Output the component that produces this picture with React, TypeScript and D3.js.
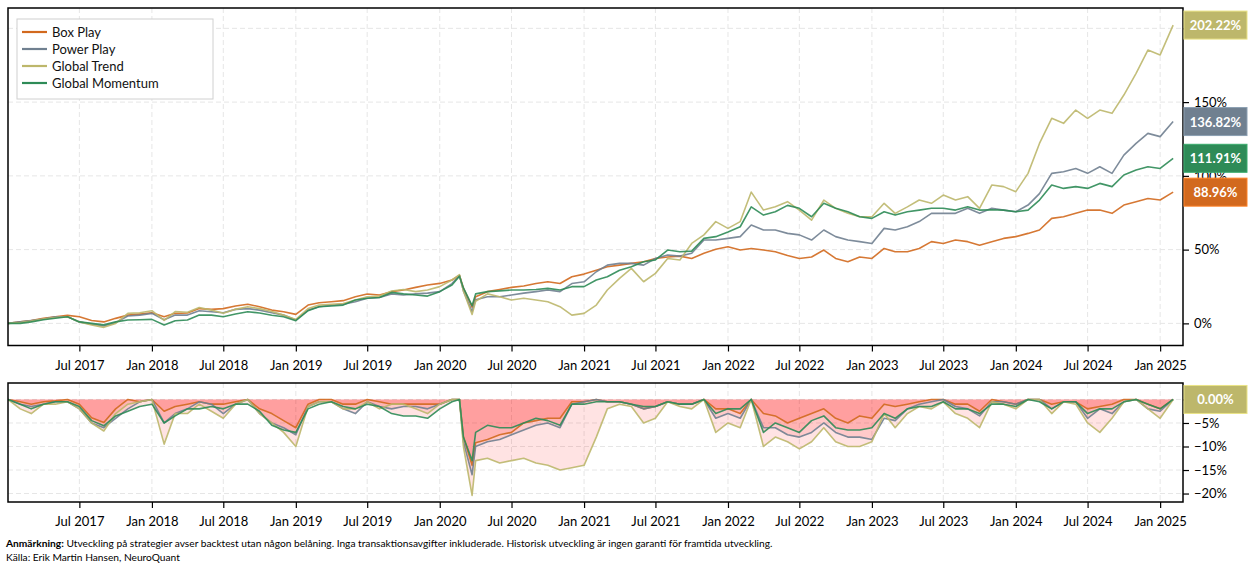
import { useEffect, useRef } from "react";
import * as d3 from "d3";

// monthly observations, plus the Feb/Mar 2020 peak and trough
const dates = [
  "2017-01-01", "2017-02-01", "2017-03-01", "2017-04-01", "2017-05-01", "2017-06-01", "2017-07-01", "2017-08-01", "2017-09-01", "2017-10-01", "2017-11-01", "2017-12-01",
  "2018-01-01", "2018-02-01", "2018-03-01", "2018-04-01", "2018-05-01", "2018-06-01", "2018-07-01", "2018-08-01", "2018-09-01", "2018-10-01", "2018-11-01", "2018-12-01",
  "2019-01-01", "2019-02-01", "2019-03-01", "2019-04-01", "2019-05-01", "2019-06-01", "2019-07-01", "2019-08-01", "2019-09-01", "2019-10-01", "2019-11-01", "2019-12-01",
  "2020-01-01", "2020-02-01", "2020-02-20", "2020-03-01", "2020-03-23", "2020-04-01", "2020-05-01", "2020-06-01", "2020-07-01", "2020-08-01", "2020-09-01", "2020-10-01", "2020-11-01", "2020-12-01",
  "2021-01-01", "2021-02-01", "2021-03-01", "2021-04-01", "2021-05-01", "2021-06-01", "2021-07-01", "2021-08-01", "2021-09-01", "2021-10-01", "2021-11-01", "2021-12-01",
  "2022-01-01", "2022-02-01", "2022-03-01", "2022-04-01", "2022-05-01", "2022-06-01", "2022-07-01", "2022-08-01", "2022-09-01", "2022-10-01", "2022-11-01", "2022-12-01",
  "2023-01-01", "2023-02-01", "2023-03-01", "2023-04-01", "2023-05-01", "2023-06-01", "2023-07-01", "2023-08-01", "2023-09-01", "2023-10-01", "2023-11-01", "2023-12-01",
  "2024-01-01", "2024-02-01", "2024-03-01", "2024-04-01", "2024-05-01", "2024-06-01", "2024-07-01", "2024-08-01", "2024-09-01", "2024-10-01", "2024-11-01", "2024-12-01",
  "2025-01-01", "2025-02-03",
];

// cumulative return, %
const boxPlay = [
  0, 1, 2, 3.5, 4.5, 5.4, 4.5, 2, 1, 3.4, 5.6, 6.3,
  7.2, 4.5, 6.8, 7, 10, 9.5, 10, 11.8, 13, 11.3, 9, 7.9,
  6.1, 12.4, 14, 14.7, 15.4, 18, 19.9, 19.2, 21.5, 22.6, 24.4, 26,
  27.1, 29.4, 32.5, 24, 11, 18, 21.5, 23, 24.4, 25.3, 27, 28.2, 27, 31.6,
  33.4, 36, 38.4, 39.5, 40.7, 41.8, 44, 45, 45.6, 44, 47.5, 50.2,
  52, 49.7, 50.8, 49.7, 48.6, 46, 44, 45, 49.7, 44, 41.8, 45,
  44, 50.8, 48.6, 48.6, 50.8, 55.4, 54.2, 56.5, 55.4, 53, 55.4, 57.6,
  58.8, 61, 63.3, 71.2, 72.3, 74.6, 76.8, 76.8, 74.6, 80.2, 82.5, 84.7,
  83.6, 88.96,
];
const powerPlay = [
  0, 1, 2, 3, 4.5, 4.5, 1, -0.5, -1.8, 0.5, 5, 5.6,
  6.8, 2.5, 5.6, 5.6, 8.6, 7.9, 7.2, 9.5, 10, 9, 7.2, 5.6,
  2.3, 9, 11.3, 12.4, 13, 14.7, 17, 17.5, 20, 19.2, 20, 20.5,
  21.5, 27, 32.5, 22, 8, 16, 18, 18, 19.2, 20.5, 21.5, 22.6, 21.5, 27,
  28.2, 35, 39.5, 40.7, 40.7, 39.5, 44, 46.3, 45.6, 47.5, 56.5, 56.5,
  57.6, 58.8, 66.7, 63.3, 63.3, 61, 60, 56.5, 63.3, 58.8, 56.5, 55.4,
  54.2, 64.4, 63.3, 65.5, 69, 74.6, 74.6, 74.6, 78, 74.6, 78, 76.8,
  75.7, 80.2, 88, 101.7, 102.8, 105, 101.7, 106.2, 101.7, 114.1, 122, 128.8,
  126.6, 136.82,
];
const globalTrend = [
  0, 0.5, 1.5, 3, 4, 4.5, 1, -1, -2.7, 0, 6.8, 7.2,
  8.6, 2, 8, 7.5, 10.8, 9, 6.8, 9.5, 11.3, 10, 8, 5.6,
  2.7, 10, 12.4, 13, 13.5, 15.8, 18, 18.5, 22, 23, 21.5, 22.6,
  24.9, 29.4, 33, 22, 6, 15, 20, 18, 15.8, 17, 15.8, 14.7, 11.3, 5.6,
  6.8, 12.4, 22.6, 30.5, 37.3, 28.2, 33.9, 44, 43, 54.2, 60, 69,
  64.4, 69, 89, 76.8, 79, 82.5, 76.8, 70, 83.6, 78, 74.6, 72.3,
  72.3, 81.4, 74.6, 79, 83.6, 81.4, 87, 83.6, 85.9, 78, 93.8, 92.7,
  89.3, 101.7, 122, 139, 135.6, 144.6, 139, 144.6, 142.4, 154.8, 169.5, 185.3,
  182, 202.22,
];
const globalMomentum = [
  0, 0, 1, 2.5, 3.5, 4.5, 1, 0, -1, 1, 2.3, 2.5,
  2.7, -1.1, 1.8, 2.3, 5.6, 5.6, 4.5, 6.3, 7.9, 7, 5.5, 4.5,
  1.8, 8.6, 11.3, 11.8, 12.4, 15.8, 17, 17.5, 21, 20, 19.2, 18.5,
  21.5, 26, 32, 24, 12, 20, 21.5, 22, 22.6, 22.6, 23, 23.7, 22.6, 24.9,
  24.9, 29.4, 31.6, 36, 38.4, 41.8, 43, 49.7, 48.6, 49, 57.6, 58.8,
  62, 65.5, 79, 73.4, 75.7, 80, 78, 72.3, 81.4, 78, 75.7, 72.3,
  71.2, 75.7, 73.4, 75.7, 76.8, 78, 78, 76.8, 79, 76.8, 77, 76.8,
  75.7, 76.8, 83.6, 93.8, 91.5, 92.7, 91.5, 94.9, 92.7, 100.6, 104, 106.2,
  105, 111.91,
];

// drawdown from running peak, %
const ddBoxPlay = [
  0, -0.5, -1, -0.5, -0.3, 0, -1, -3.9, -4.9, -2, 0, -0.5,
  0, -2.5, -1.5, -1, -0.5, -1, -1, -0.5, 0, -2, -3, -4.5,
  -6, -1, 0, 0, -1, -1, 0, -0.5, -1, -1, -1, -1,
  -1, 0, 0, -8, -14, -9.2, -8.5, -7.5, -7, -5, -4.5, -4, -4, -0.5,
  -0.5, 0, -0.5, -0.5, -1, -2, -1.5, -0.5, -1, -1, 0, -2,
  -2, -3, 0, -3, -3.5, -5, -4, -3, -2, -4, -5, -3.5,
  -4, -1, -1.5, -1, -0.5, 0, 0, -1, -1, -2.5, 0, -0.5,
  -1, 0, 0, -1, -0.5, -0.5, -2, -1.5, -1, 0, 0, -1,
  -2, 0,
];
const ddPowerPlay = [
  0, -1, -1.5, -1, -0.5, -0.5, -2, -5, -6, -4, -2, -0.5,
  0, -5, -3, -2, -0.5, -1, -3, -1, 0, -3, -5, -6,
  -7.5, -1.5, -0.5, -0.5, -2, -3, -0.5, -1.5, -2, -1.5, -1.5, -2,
  -1, 0, 0, -9, -16, -10, -9, -8.5, -7.5, -6.5, -5.5, -5, -6, -1,
  -0.5, 0, -0.5, -0.5, -1, -2, -1.5, -0.5, -1, -1, 0, -4,
  -3, -4, 0, -6, -6, -7.5, -8, -7, -5, -7, -8, -8,
  -8.5, -4, -4.5, -2, -1, -0.5, 0, -1.5, -2, -3.5, -0.5, -0.5,
  -1, 0, 0, -2, -0.5, -0.5, -4, -2, -3, -0.5, 0, -2,
  -2.5, 0,
];
const ddGlobalTrend = [
  0, -2, -3, -1, -1, -0.5, -2, -5, -6.7, -3, -1, -0.5,
  0, -9.5, -3, -3, -1, -2.5, -4, -1, 0, -3, -5, -7,
  -10, -1.5, -0.5, -0.5, -2, -2, -0.5, -2, -1, -1, -2, -3,
  -1, 0, 0, -10, -20.4, -13, -12.5, -13.5, -13, -12.5, -13.5, -14, -15, -14.5,
  -14, -8, -2, -1, -1.5, -5, -4, -0.5, -1.5, -2, 0, -7,
  -5, -6, 0, -10, -8, -9, -10.5, -9, -6, -9, -10, -10,
  -9, -3, -6, -3, -1.5, -2, -0.5, -3, -4, -6, -0.5, -1,
  -2, 0, 0, -3, -0.5, -1, -5, -7, -4, -0.5, 0, -2,
  -4, 0,
];
const ddGlobalMomentum = [
  0, -1, -2, -1, -0.5, -0.5, -1.5, -4.5, -5.6, -3.5, -2.5, -1.5,
  -1, -5, -3.5, -2, -2, -1.5, -2, -1, -1, -2.5, -5.5, -6.5,
  -7, -2, -1, -0.5, -1.5, -2, -1, -1.5, -3, -3.5, -3.5, -4,
  -2, -0.5, 0, -8, -13, -7, -5.5, -6, -6, -5, -4, -4.5, -5.5, -1,
  -1, -0.5, -0.5, -0.5, -1, -1.5, -1.5, -0.5, -1, -1, 0, -3,
  -2, -2, 0, -7, -5, -6, -7, -4.5, -3.5, -6, -6.5, -6.5,
  -6, -3, -4, -2, -1.5, -1.5, -0.5, -2, -2, -3, -1, -1,
  -1.5, 0, -0.5, -2, -0.5, -0.5, -3, -2, -2, -0.5, 0, -1,
  -2, 0,
];

const seriesNames = ["Box Play", "Power Play", "Global Trend", "Global Momentum"];
const seriesColors = ["#d2691e", "#708090", "#bdb76b", "#2e8b57"];
const mainValues = [boxPlay, powerPlay, globalTrend, globalMomentum];
const ddValues = [ddBoxPlay, ddPowerPlay, ddGlobalTrend, ddGlobalMomentum];

const mainTicks = [0, 50, 100, 150, 200];
const ddTicks = [0, -5, -10, -15, -20];

const noteBold = "Anmärkning:";
const noteText = " Utveckling på strategier avser backtest utan någon belåning. Inga transaktionsavgifter inkluderade. Historisk utveckling är ingen garanti för framtida utveckling.";
const sourceText = "Källa: Erik Martin Hansen, NeuroQuant";

const FONT = "Lato, 'Noto Sans', sans-serif";

const App = () => {
  const svgRef = useRef<SVGSVGElement>(null);

  useEffect(() => {
    if (!svgRef.current) return;
    const svg = d3.select(svgRef.current);
    svg.selectAll("*").remove();

    const width = 1254;
    const height = 574;
    const left = 8;
    const right = 1183;
    const main = { top: 8, bottom: 345.5 };
    const dd = { top: 383, bottom: 502 };
    const labelH = 28;

    svg.attr("width", width).attr("height", height).style("font-family", FONT);

    const parsed = dates.map(d => new Date(d + "T00:00:00Z"));

    const x = d3.scaleUtc()
      .domain([new Date("2017-01-01T00:00:00Z"), new Date("2025-02-28T00:00:00Z")])
      .range([left, right]);
    const yMain = d3.scaleLinear().domain([-15, 213.8]).range([main.bottom, main.top]);
    const yDd = d3.scaleLinear().domain([-21.8, 3.5]).range([dd.bottom, dd.top]);

    const xTicks = d3.utcMonth.every(6)!.range(new Date("2017-06-01T00:00:00Z"), new Date("2025-02-01T00:00:00Z"));

    const defs = svg.append("defs");
    defs.append("clipPath").attr("id", "clip-main").append("rect")
      .attr("x", left).attr("y", main.top).attr("width", right - left).attr("height", main.bottom - main.top);
    defs.append("clipPath").attr("id", "clip-dd").append("rect")
      .attr("x", left).attr("y", dd.top).attr("width", right - left).attr("height", dd.bottom - dd.top);

    const gridColor = "#e6e6e6";

    // end-value labels sit over the right axis; tick texts under them are hidden
    const mainLabelYs = mainValues.map(v => yMain(v[v.length - 1]));
    const ddLast = ddGlobalTrend[ddGlobalTrend.length - 1];
    const ddLabelYs = [yDd(ddLast)];

    const panels = [
      { box: main, y: yMain, ticks: mainTicks, labelYs: mainLabelYs },
      { box: dd, y: yDd, ticks: ddTicks, labelYs: ddLabelYs },
    ];

    // grid
    panels.forEach(p => {
      const g = svg.append("g");
      g.selectAll(".vgrid").data(xTicks).join("line")
        .attr("x1", d => x(d)).attr("x2", d => x(d))
        .attr("y1", p.box.top).attr("y2", p.box.bottom)
        .attr("stroke", gridColor).attr("stroke-width", 1).attr("stroke-dasharray", "5,3");
      g.selectAll(".hgrid").data(p.ticks).join("line")
        .attr("x1", left).attr("x2", right)
        .attr("y1", d => p.y(d)).attr("y2", d => p.y(d))
        .attr("stroke", gridColor).attr("stroke-width", 1).attr("stroke-dasharray", "5,3");
    });

    // drawdown fills and lines
    const ddG = svg.append("g").attr("clip-path", "url(#clip-dd)");
    ddValues.forEach(vals => {
      const area = d3.area<number>()
        .x((_, i) => x(parsed[i]))
        .y0(yDd(0))
        .y1(d => yDd(d));
      ddG.append("path").attr("d", area(vals)).attr("fill", "#ff0000").attr("fill-opacity", 0.11);
    });
    ddValues.forEach((vals, s) => {
      const line = d3.line<number>().x((_, i) => x(parsed[i])).y(d => yDd(d));
      ddG.append("path").attr("d", line(vals)).attr("fill", "none")
        .attr("stroke", seriesColors[s]).attr("stroke-width", 1.6).attr("stroke-opacity", 0.9)
        .attr("stroke-linejoin", "round");
    });

    // main lines
    const mainG = svg.append("g").attr("clip-path", "url(#clip-main)");
    mainValues.forEach((vals, s) => {
      const line = d3.line<number>().x((_, i) => x(parsed[i])).y(d => yMain(d));
      mainG.append("path").attr("d", line(vals)).attr("fill", "none")
        .attr("stroke", seriesColors[s]).attr("stroke-width", 1.6).attr("stroke-opacity", 0.9)
        .attr("stroke-linejoin", "round");
    });

    // axes + frames
    panels.forEach(p => {
      const gx = svg.append("g").attr("transform", `translate(0,${p.box.bottom})`)
        .call(d3.axisBottom(x).tickValues(xTicks).tickFormat(d => d3.utcFormat("%b %Y")(d as Date)).tickSize(6).tickPadding(9));
      gx.select(".domain").remove();
      gx.selectAll("text").style("font-size", "13px").style("font-family", FONT).attr("fill", "#000");
      gx.selectAll("line").attr("stroke", "#000").attr("stroke-width", 1.2);

      const hidden = (v: number) => p.labelYs.some(ly => Math.abs(p.y(v) - ly) < labelH / 2);
      const fmt = (d: d3.NumberValue) => hidden(d as number) ? "" : d3.format("d")(d as number) + "%";
      const gy = svg.append("g").attr("transform", `translate(${right},0)`)
        .call(d3.axisRight(p.y).tickValues(p.ticks).tickFormat(fmt).tickSize(6).tickPadding(5));
      gy.select(".domain").remove();
      gy.selectAll("text").style("font-size", "13px").style("font-family", FONT).attr("fill", "#000");
      gy.selectAll("line").attr("stroke", "#000").attr("stroke-width", 1.2);

      svg.append("rect")
        .attr("x", left).attr("y", p.box.top)
        .attr("width", right - left).attr("height", p.box.bottom - p.box.top)
        .attr("fill", "none").attr("stroke", "#000").attr("stroke-width", 1.5);
    });

    const endLabel = (val: number, yPos: number, color: string) => {
      const g = svg.append("g");
      g.append("rect")
        .attr("x", right + 1).attr("y", yPos - labelH / 2)
        .attr("width", 63).attr("height", labelH)
        .attr("fill", color)
        .attr("stroke", d3.color(color)!.brighter(0.6).formatHex()).attr("stroke-width", 1);
      g.append("text")
        .attr("x", right + 32.5).attr("y", yPos)
        .attr("text-anchor", "middle").attr("dominant-baseline", "central")
        .attr("fill", "#fff").style("font-size", "13px").style("font-weight", "700")
        .text(d3.format(".2f")(val) + "%");
    };
    mainValues.forEach((vals, s) => endLabel(vals[vals.length - 1], mainLabelYs[s], seriesColors[s]));
    endLabel(Math.abs(ddLast), ddLabelYs[0], seriesColors[2]);

    // legend
    const lg = svg.append("g");
    lg.append("rect").attr("x", 17).attr("y", 19).attr("width", 196).attr("height", 80)
      .attr("fill", "#fff").attr("stroke", "#d0d0d0").attr("stroke-width", 1);
    seriesNames.forEach((name, i) => {
      const cy = 32 + i * 17;
      lg.append("line").attr("x1", 22).attr("x2", 47).attr("y1", cy).attr("y2", cy)
        .attr("stroke", seriesColors[i]).attr("stroke-width", 2.2);
      lg.append("text").attr("x", 52).attr("y", cy).attr("dominant-baseline", "central")
        .style("font-size", "13px").attr("fill", "#111").text(name);
    });

    // footnotes
    const note = svg.append("text").attr("x", 6).attr("y", 547).style("font-size", "10.2px").attr("fill", "#000");
    note.append("tspan").style("font-weight", "700").text(noteBold);
    note.append("tspan").text(noteText);
    svg.append("text").attr("x", 6).attr("y", 561).style("font-size", "10.2px").attr("fill", "#000").text(sourceText);
  }, []);

  return (
    <svg ref={svgRef} style={{ position: "absolute", left: 0, top: 0, background: "#fff" }}></svg>
  );
};

export default App;
